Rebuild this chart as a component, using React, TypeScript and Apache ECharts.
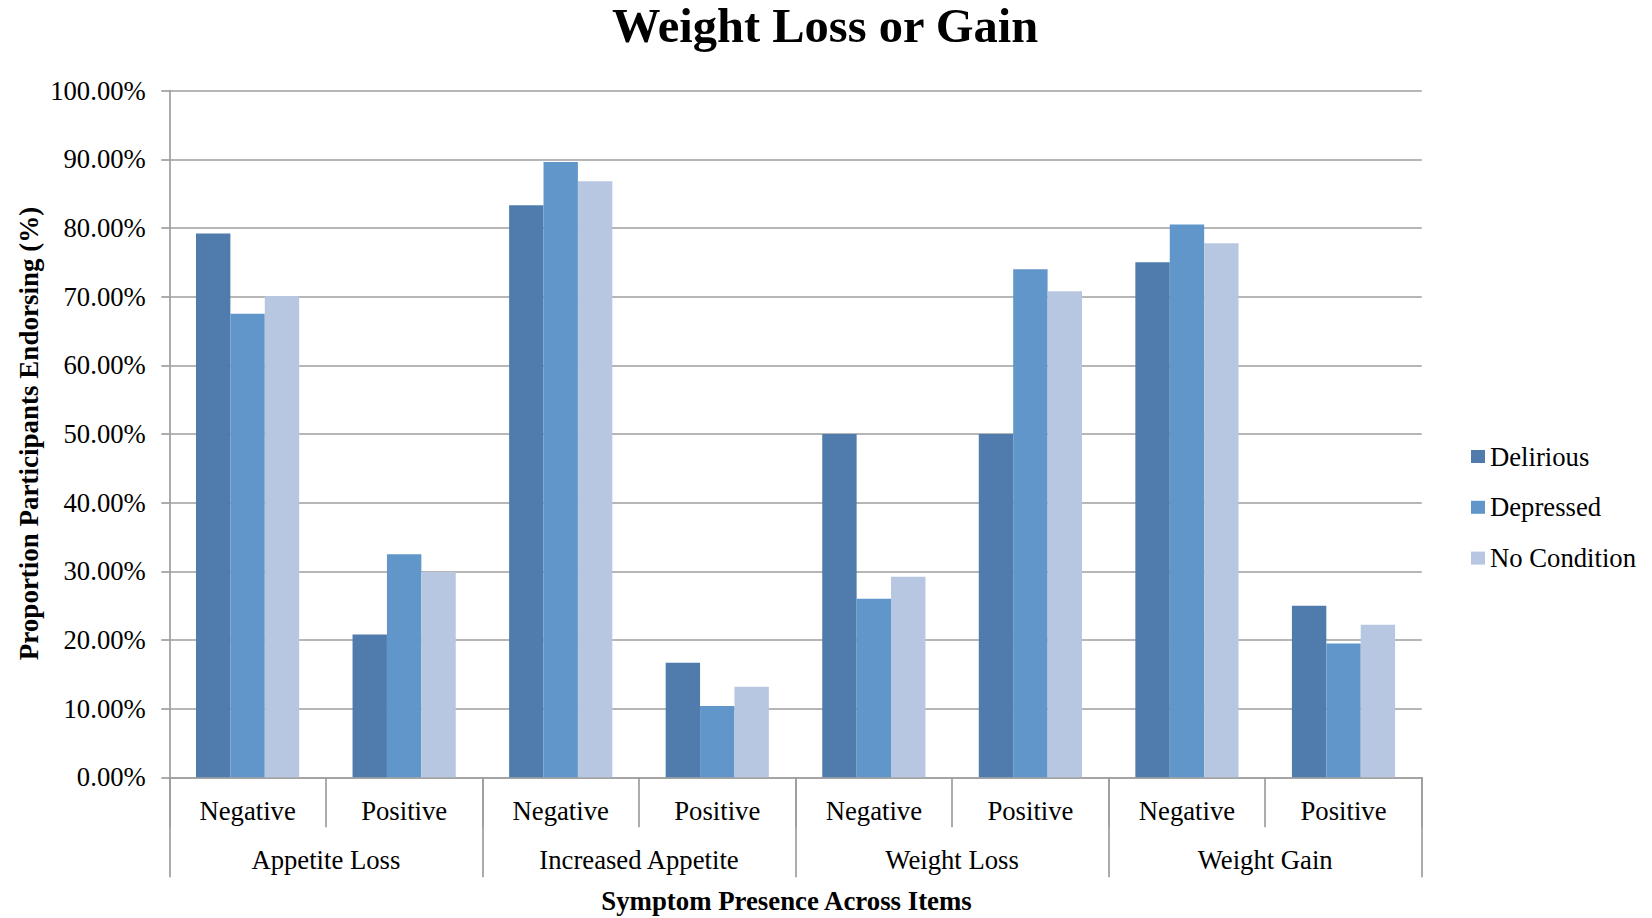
import React, { useEffect, useRef } from "react";
import * as echarts from "echarts";

const chartTitle = "Weight Loss or Gain";
const yAxisTitle = "Proportion Participants Endorsing (%)";
const xAxisTitle = "Symptom Presence Across Items";
const groups = ["Appetite Loss", "Increased Appetite", "Weight Loss", "Weight Gain"];
const presence = ["Negative", "Positive"];
const seriesNames = ["Delirious", "Depressed", "No Condition"];
const delirious = [79.2, 20.8, 83.3, 16.7, 50.0, 50.0, 75.0, 25.0];
const depressed = [67.5, 32.5, 89.6, 10.4, 26.0, 74.0, 80.5, 19.5];
const noCondition = [70.1, 29.9, 86.8, 13.2, 29.2, 70.8, 77.8, 22.2];
const colors = ["#4f7cac", "#6096ca", "#b8c7e1"];

const FONT = '"Liberation Serif", "Times New Roman", serif';
const GRAY = "#9e9e9e";
const FS = 26.7;

export default function App() {
  const ref = useRef<HTMLDivElement>(null);
  useEffect(() => {
    if (!ref.current) return;
    const chart = echarts.init(ref.current, undefined, { renderer: "svg" });
    const subCats: string[] = [];
    groups.forEach((g) => presence.forEach((p) => subCats.push(g + "|" + p)));
    const values = [delirious, depressed, noCondition];
    chart.setOption({
      animation: false,
      backgroundColor: "#ffffff",
      grid: { left: 169.3, right: 230.2, top: 90.7, bottom: 140.7, containLabel: false },
      legend: {
        orient: "vertical",
        left: 1471,
        top: 443,
        padding: 0,
        itemWidth: 14,
        itemHeight: 13,
        itemGap: 23.8,
        icon: "rect",
        data: seriesNames,
        textStyle: { fontFamily: FONT, fontSize: FS, color: "#000", padding: [0, 0, 0, 0] },
      },
      xAxis: [
        {
          type: "category",
          data: subCats,
          position: "bottom",
          axisLine: { show: true, lineStyle: { color: GRAY, width: 1.7 } },
          axisTick: { show: true, interval: 0, length: 50, lineStyle: { color: GRAY, width: 1.7 } },
          axisLabel: {
            interval: 0,
            margin: 20.5,
            fontFamily: FONT,
            fontSize: FS,
            color: "#000",
            formatter: (v: string) => v.split("|")[1],
          },
          splitLine: { show: false },
        },
        {
          type: "category",
          data: groups,
          position: "bottom",
          axisLine: { show: false },
          axisTick: { show: true, interval: 0, length: 100, lineStyle: { color: GRAY, width: 1.7 } },
          axisLabel: { interval: 0, margin: 69.5, fontFamily: FONT, fontSize: FS, color: "#000" },
          splitLine: { show: false },
        },
      ],
      yAxis: {
        type: "value",
        min: 0,
        max: 100,
        interval: 10,
        axisLine: { show: true, lineStyle: { color: GRAY, width: 1.7 } },
        axisTick: { show: true, length: 8, lineStyle: { color: GRAY, width: 1.7 } },
        axisLabel: {
          margin: 23.5,
          fontFamily: FONT,
          fontSize: FS,
          color: "#000",
          formatter: (v: number) => v.toFixed(2) + "%",
        },
        splitLine: { show: true, lineStyle: { color: GRAY, width: 1.7 } },
      },
      series: seriesNames.map((name, i) => ({
        name,
        type: "bar",
        xAxisIndex: 0,
        data: values[i],
        barWidth: 34.4,
        barGap: "0%",
        itemStyle: { color: colors[i] },
      })),
      graphic: [
        {
          type: "text",
          x: 825,
          y: 25.5,
          style: {
            text: chartTitle,
            font: `bold 48.5px ${FONT}`,
            fill: "#000",
            align: "center",
            verticalAlign: "middle",
            textAlign: "center",
            textVerticalAlign: "middle",
          },
        },
        {
          type: "text",
          x: 786.5,
          y: 901,
          style: {
            text: xAxisTitle,
            font: `bold 26.8px ${FONT}`,
            fill: "#000",
            align: "center",
            verticalAlign: "middle",
            textAlign: "center",
            textVerticalAlign: "middle",
          },
        },
        {
          type: "text",
          x: 29,
          y: 433.5,
          rotation: Math.PI / 2,
          style: {
            text: yAxisTitle,
            font: `bold 27px ${FONT}`,
            fill: "#000",
            align: "center",
            verticalAlign: "middle",
            textAlign: "center",
            textVerticalAlign: "middle",
          },
        },
      ],
    });
    return () => chart.dispose();
  }, []);
  return (
    <div
      ref={ref}
      style={{ position: "fixed", left: 0, top: 0, width: 1652, height: 918, background: "#fff" }}
    />
  );
}
